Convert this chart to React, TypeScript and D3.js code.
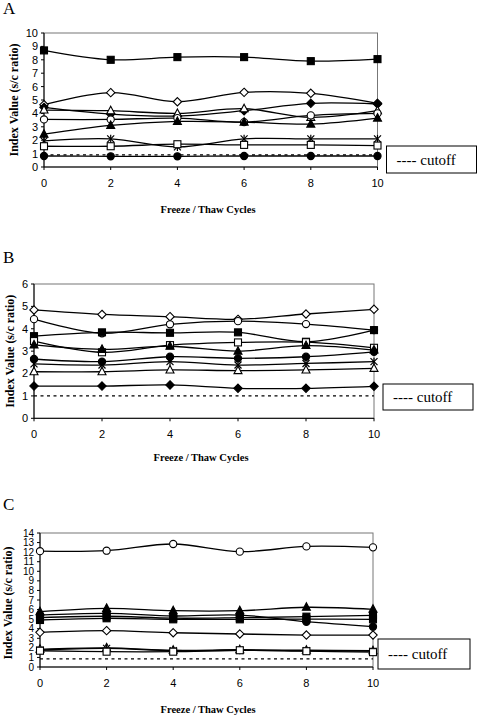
import React from 'react';
import * as d3 from 'd3';

const cycles = [0, 2, 4, 6, 8, 10];
const xTickLabels = ['0', '2', '4', '6', '8', '10'];
const yTicksA = [0, 1, 2, 3, 4, 5, 6, 7, 8, 9, 10];
const yTicksB = [0, 1, 2, 3, 4, 5, 6];
const yTicksC = [0, 1, 2, 3, 4, 5, 6, 7, 8, 9, 10, 11, 12, 13, 14];

// Panel A values
const aFilledSquare = [8.7, 8.0, 8.2, 8.2, 7.9, 8.05];
const aOpenDiamond = [4.65, 5.55, 4.87, 5.57, 5.5, 4.75];
const aFilledDiamond = [4.45, 3.95, 3.8, 4.2, 4.75, 4.7];
const aOpenTriangle = [4.25, 4.2, 4.0, 4.35, 3.7, 4.2];
const aOpenCircle = [3.55, 3.55, 3.65, 3.35, 3.85, 4.0];
const aFilledTriangle = [2.45, 3.1, 3.4, 3.35, 3.2, 3.65];
const aStar = [1.95, 2.1, 1.5, 2.1, 2.1, 2.1];
const aOpenSquare = [1.55, 1.55, 1.7, 1.65, 1.65, 1.6];
const aFilledCircle = [0.82, 0.8, 0.8, 0.82, 0.82, 0.82];
const aCutoff = 0.9;

// Panel B values
const bOpenDiamond = [4.84, 4.64, 4.54, 4.42, 4.66, 4.87];
const bOpenCircle = [4.43, 3.8, 4.2, 4.34, 4.21, 3.94];
const bFilledSquare = [3.67, 3.84, 3.82, 3.84, 3.42, 3.94];
const bOpenSquare = [3.45, 2.95, 3.27, 3.39, 3.4, 3.15];
const bFilledTriangle = [3.28, 3.08, 3.22, 3.0, 3.25, 3.05];
const bFilledCircle = [2.65, 2.53, 2.75, 2.68, 2.75, 2.97];
const bStar = [2.43, 2.38, 2.53, 2.38, 2.45, 2.53];
const bOpenTriangle = [2.08, 2.08, 2.16, 2.13, 2.16, 2.23];
const bFilledDiamond = [1.44, 1.44, 1.49, 1.34, 1.34, 1.43];
const bCutoff = 1.0;

// Panel C values
const cOpenCircle = [12.1, 12.15, 12.85, 12.05, 12.6, 12.5];
const cFilledTriangle = [5.78, 6.13, 5.88, 5.88, 6.24, 6.03];
const cFilledCircle = [5.43, 5.6, 5.33, 5.43, 4.73, 4.21];
const cFilledSquare2 = [5.15, 5.3, 5.1, 5.15, 5.26, 5.4];
const cFilledSquare = [4.91, 5.09, 4.98, 4.98, 5.0, 4.98];
const cOpenDiamond = [3.62, 3.8, 3.58, 3.45, 3.34, 3.34];
const cOpenTriangle = [1.85, 2.0, 1.75, 1.8, 1.75, 1.7];
const cStar = [1.78, 1.95, 1.7, 1.75, 1.7, 1.65];
const cOpenSquare = [1.7, 1.6, 1.6, 1.75, 1.65, 1.55];
const cCutoff = 0.85;

type Marker = 'square' | 'circle' | 'diamond' | 'triangle' | 'star';
type Series = { values: number[]; marker: Marker; filled: boolean };

const seriesA: Series[] = [
  { values: aFilledSquare, marker: 'square', filled: true },
  { values: aOpenDiamond, marker: 'diamond', filled: false },
  { values: aFilledDiamond, marker: 'diamond', filled: true },
  { values: aOpenTriangle, marker: 'triangle', filled: false },
  { values: aOpenCircle, marker: 'circle', filled: false },
  { values: aFilledTriangle, marker: 'triangle', filled: true },
  { values: aStar, marker: 'star', filled: false },
  { values: aOpenSquare, marker: 'square', filled: false },
  { values: aFilledCircle, marker: 'circle', filled: true },
];
const seriesB: Series[] = [
  { values: bOpenDiamond, marker: 'diamond', filled: false },
  { values: bOpenCircle, marker: 'circle', filled: false },
  { values: bFilledSquare, marker: 'square', filled: true },
  { values: bOpenSquare, marker: 'square', filled: false },
  { values: bFilledTriangle, marker: 'triangle', filled: true },
  { values: bFilledCircle, marker: 'circle', filled: true },
  { values: bStar, marker: 'star', filled: false },
  { values: bOpenTriangle, marker: 'triangle', filled: false },
  { values: bFilledDiamond, marker: 'diamond', filled: true },
];
const seriesC: Series[] = [
  { values: cOpenCircle, marker: 'circle', filled: false },
  { values: cFilledTriangle, marker: 'triangle', filled: true },
  { values: cFilledCircle, marker: 'circle', filled: true },
  { values: cFilledSquare2, marker: 'square', filled: true },
  { values: cFilledSquare, marker: 'square', filled: true },
  { values: cOpenDiamond, marker: 'diamond', filled: false },
  { values: cOpenTriangle, marker: 'triangle', filled: false },
  { values: cStar, marker: 'star', filled: false },
  { values: cOpenSquare, marker: 'square', filled: false },
];

const serif = '"Liberation Serif", "Times New Roman", serif';
const sans = '"Liberation Sans", Arial, sans-serif';

function MarkerShape({ m, x, y, filled }: { m: Marker; x: number; y: number; filled: boolean }) {
  const fill = filled ? '#000' : '#fff';
  const sw = 1.1;
  if (m === 'square') return <rect x={x - 3.5} y={y - 3.5} width={7} height={7} fill={fill} stroke="#000" strokeWidth={sw} />;
  if (m === 'circle') return <circle cx={x} cy={y} r={3.6} fill={fill} stroke="#000" strokeWidth={sw} />;
  if (m === 'diamond') return <path d={`M${x},${y - 4.2}L${x + 4.2},${y}L${x},${y + 4.2}L${x - 4.2},${y}Z`} fill={fill} stroke="#000" strokeWidth={sw} />;
  if (m === 'triangle') return <path d={`M${x},${y - 4.5}L${x + 4},${y + 3}L${x - 4},${y + 3}Z`} fill={fill} stroke="#000" strokeWidth={sw} />;
  return (
    <g stroke="#000" strokeWidth={1.2}>
      <line x1={x - 3.5} y1={y - 3.5} x2={x + 3.5} y2={y + 3.5} />
      <line x1={x - 3.5} y1={y + 3.5} x2={x + 3.5} y2={y - 3.5} />
      <line x1={x} y1={y - 4} x2={x} y2={y + 4} />
    </g>
  );
}

type PanelProps = {
  letter: string; letterY: number;
  left: number; right: number; top: number; bottom: number;
  yMax: number; yTicks: number[]; tickFont: number; series: Series[]; cutoff: number;
  titleX: number; titleY: number; yTitleX: number; yTitleY?: number;
  legend: { x: number; y: number; w: number; h: number };
};

function Panel(p: PanelProps) {
  const x = d3.scaleLinear().domain([0, 10]).range([p.left, p.right]);
  const y = d3.scaleLinear().domain([0, p.yMax]).range([p.bottom, p.top]);
  const line = d3.line<number>()
    .x((_, i) => x(cycles[i]))
    .y(d => y(d))
    .curve(d3.curveCatmullRom.alpha(0.5));
  const midY = p.yTitleY ?? (p.top + p.bottom) / 2;
  return (
    <g>
      <text x={3} y={p.letterY} fontFamily={serif} fontSize={17}>{p.letter}</text>
      <rect x={p.left} y={p.top} width={p.right - p.left} height={p.bottom - p.top} fill="none" stroke="#777" strokeWidth={1} />
      <line x1={p.left} y1={p.top} x2={p.left} y2={p.bottom} stroke="#000" strokeWidth={1} />
      <line x1={p.left} y1={p.bottom} x2={p.right} y2={p.bottom} stroke="#000" strokeWidth={1} />
      {p.yTicks.map(t => (
        <g key={'y' + t}>
          <line x1={p.left - 3} x2={p.left} y1={y(t)} y2={y(t)} stroke="#000" />
          <text x={p.left - 6} y={y(t)} dy="0.36em" textAnchor="end" fontFamily={sans} fontSize={p.tickFont}>{t}</text>
        </g>
      ))}
      {cycles.map((c, i) => (
        <g key={'x' + c}>
          <line x1={x(c)} x2={x(c)} y1={p.bottom} y2={p.bottom + 3} stroke="#000" />
          <text x={x(c)} y={p.bottom + 20} textAnchor="middle" fontFamily={sans} fontSize={11}>{xTickLabels[i]}</text>
        </g>
      ))}
      <line x1={p.left} x2={p.right} y1={y(p.cutoff)} y2={y(p.cutoff)} stroke="#000" strokeWidth={1.2} strokeDasharray="3,3.5" />
      {p.series.map((s, i) => (
        <path key={'l' + i} d={line(s.values) || ''} fill="none" stroke="#000" strokeWidth={1.3} />
      ))}
      {p.series.map((s, i) => (
        <g key={'m' + i}>
          {s.values.map((v, j) => <MarkerShape key={j} m={s.marker} x={x(cycles[j])} y={y(v)} filled={s.filled} />)}
        </g>
      ))}
      <text x={p.titleX} y={p.titleY} textAnchor="middle" fontFamily={serif} fontWeight="bold" fontSize={10.5}>Freeze / Thaw Cycles</text>
      <text transform={`translate(${p.yTitleX},${midY}) rotate(-90)`} textAnchor="middle" dy="0.35em" fontFamily={serif} fontWeight="bold" fontSize={12}>Index Value (s/c ratio)</text>
      <rect x={p.legend.x} y={p.legend.y} width={p.legend.w} height={p.legend.h} fill="#fff" stroke="#000" strokeWidth={1} />
      <text x={p.legend.x + 10} y={p.legend.y + p.legend.h / 2 + 5} fontFamily={serif} fontSize={15}>---- cutoff</text>
    </g>
  );
}

export default function App() {
  return (
    <svg width={477} height={716} style={{ position: 'absolute', left: 0, top: 0, background: '#fff' }}>
      <rect x={0} y={0} width={477} height={716} fill="#fff" />
      <Panel letter="A" letterY={14} left={44} right={377.5} top={33} bottom={167} yMax={10} yTicks={yTicksA} tickFont={11}
        series={seriesA} cutoff={aCutoff} titleX={208} titleY={213} yTitleX={14}
        legend={{ x: 386.5, y: 146, w: 90, h: 27 }} />
      <Panel letter="B" letterY={263} left={34} right={374} top={284} bottom={418.3} yMax={6} yTicks={yTicksB} tickFont={11}
        series={seriesB} cutoff={bCutoff} titleX={201} titleY={461} yTitleX={10}
        legend={{ x: 383, y: 384, w: 90, h: 26 }} />
      <Panel letter="C" letterY={510} left={40} right={373} top={533} bottom={667} yMax={14} yTicks={yTicksC} tickFont={10}
        series={seriesC} cutoff={cCutoff} titleX={208} titleY={713} yTitleX={8} yTitleY={603}
        legend={{ x: 378, y: 639, w: 92, h: 30 }} />
    </svg>
  );
}
